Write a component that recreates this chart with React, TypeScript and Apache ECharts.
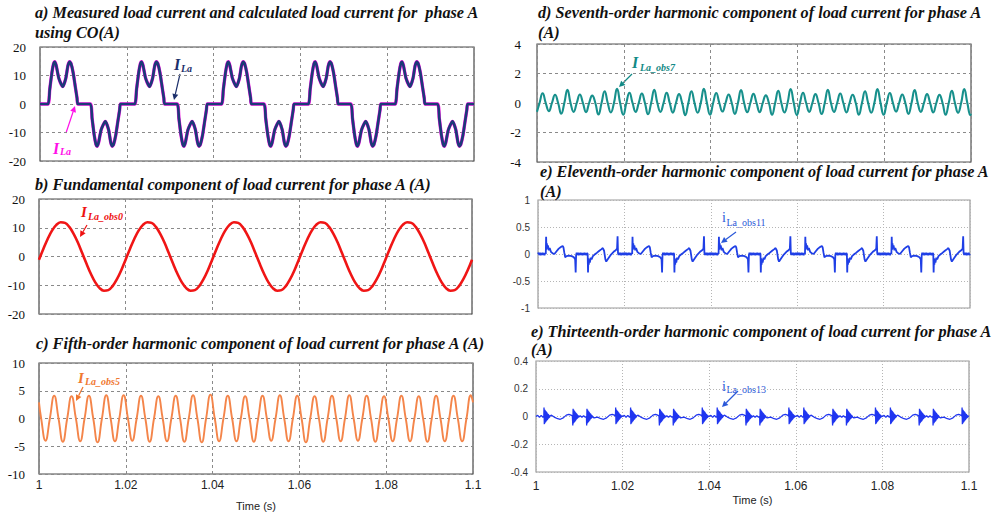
import React, { useEffect, useRef } from "react";
import * as echarts from "echarts";

// ---------------- data ----------------
const timeTicks = ["1", "1.02", "1.04", "1.06", "1.08", "1.1"];
const cycles = 5; // fundamental cycles shown between 1.00 s and 1.10 s (50 Hz)
const cycleMs = 20;

// a) load current I_La over one fundamental cycle (ms from cycle start, A)
const aCycleMs = [0, 1.84, 2.24, 2.74, 3.14, 3.39, 3.74, 4.34, 5.24, 5.94, 6.44, 6.84, 7.14, 7.64, 8.14, 8.54, 8.74,
  11.6, 12.0, 12.5, 12.9, 13.15, 13.5, 14.1, 15.05, 15.8, 16.3, 16.65, 16.95, 17.45, 17.95, 18.35, 18.55, 20];
const aCycleA = [0, 0, 5, 11, 14.2, 14.8, 13.5, 9, 6.1, 9, 13.5, 14.8, 14.2, 11, 6, 2, 0,
  0, -5, -11, -14.2, -14.8, -13.5, -9, -6.1, -9, -13.5, -14.8, -14.2, -11, -6, -2, 0, 0];

// b) fundamental component, one cycle at 1 ms steps (A)
const bCycleMs = [0, 1, 2, 3, 4, 5, 6, 7, 8, 9, 10, 11, 12, 13, 14, 15, 16, 17, 18, 19, 20];
const bCycleA = [-1.1, 2.6, 6.1, 9.0, 11.0, 11.9, 11.7, 10.3, 7.9, 4.8, 1.1, -2.6, -6.1, -9.0, -11.0, -11.9, -11.7, -10.3, -7.9, -4.8, -1.1];

// c) fifth harmonic: value at 1.00 s, successive troughs / peaks, value at 1.10 s
const cStartA = 2.9;
const cEndA = 2.9;
const cFirstTroughMs = 1.5;
const cTroughsA = [-4.0, -4.2, -4.1, -4.3, -4.1, -4.0, -4.2, -4.1, -4.2, -4.3, -4.1, -4.1, -4.2, -4.0, -4.1, -4.3, -4.2, -4.1, -4.0, -4.2, -4.1, -4.1, -4.2, -4.1, -4.1];
const cPeaksA = [4.1, 4.0, 4.1, 4.2, 4.2, 4.1, 4.0, 4.1, 4.2, 4.3, 4.1, 4.0, 4.1, 4.2, 4.1, 4.0, 4.1, 4.2, 4.1, 4.0, 4.1, 4.0, 4.1, 4.1, 4.2];

// d) seventh harmonic: value at 1.00 s, successive peaks / troughs, value at 1.10 s
const dStartA = -0.6;
const dEndA = -0.72;
const dFirstPeakMs = 1.3;
const dPeaksA = [0.66, 0.56, 0.9, 0.58, 0.5, 0.8, 0.96,
  0.7, 0.64, 0.9, 0.7, 0.6, 0.8, 0.96,
  0.68, 0.58, 0.88, 0.62, 0.52, 0.82, 0.95,
  0.7, 0.6, 0.9, 0.64, 0.56, 0.8, 0.95,
  0.68, 0.58, 0.88, 0.6, 0.55, 0.82, 0.94];
const dTroughsA = [-0.55, -0.72, -0.6, -0.62, -0.78, -0.64, -0.8,
  -0.6, -0.76, -0.6, -0.65, -0.82, -0.66, -0.8,
  -0.58, -0.74, -0.62, -0.62, -0.8, -0.64, -0.82,
  -0.6, -0.75, -0.6, -0.64, -0.8, -0.66, -0.8,
  -0.58, -0.74, -0.6, -0.64, -0.8, -0.66, -0.82];

// e) eleventh harmonic, one fundamental cycle [ms, A]
const eCyclePts: [number, number][] = [
  [0, 0.0], [0.15, 0.025], [0.3, -0.02], [0.45, 0.025], [0.6, -0.025], [0.75, 0.02], [0.9, -0.02], [1.05, 0.025],
  [1.2, -0.02], [1.35, 0.02], [1.5, -0.025], [1.65, 0.02], [1.8, 0.0],
  [1.88, 0.32], [1.96, 0.08], [2.05, 0.2], [2.15, 0.1], [2.3, 0.16], [2.5, 0.07], [2.7, 0.11], [3.0, 0.04],
  [3.4, 0.01], [3.8, 0.0], [4.3, 0.05], [4.8, 0.1], [5.3, 0.13], [5.7, 0.15], [5.9, 0.12], [6.1, 0.02],
  [6.3, -0.06], [6.6, -0.04], [7.2, -0.03], [7.8, -0.04], [8.3, -0.06], [8.6, -0.1],
  [8.72, -0.34], [8.82, -0.02],
  [8.95, 0.025], [9.1, -0.02], [9.25, 0.025], [9.4, -0.025], [9.55, 0.02], [9.7, -0.02], [9.85, 0.025],
  [10.0, -0.02], [10.15, 0.02], [10.3, -0.025], [10.45, 0.02], [10.6, -0.02], [10.75, 0.025], [10.9, -0.02],
  [11.05, 0.02], [11.2, -0.025], [11.35, 0.02], [11.5, 0.0],
  [11.58, -0.34], [11.66, -0.08], [11.75, -0.2], [11.85, -0.1], [12.0, -0.16], [12.2, -0.07], [12.4, -0.1],
  [12.7, -0.04], [13.1, -0.01], [13.6, 0.02], [14.2, 0.06], [14.7, 0.09], [15.0, 0.11], [15.3, 0.06],
  [15.6, -0.1], [15.8, -0.14], [16.3, -0.08], [16.9, -0.01], [17.5, 0.04], [18.0, 0.07], [18.3, 0.1],
  [18.42, 0.33], [18.52, 0.02],
  [18.65, -0.02], [18.8, 0.025], [18.95, -0.02], [19.1, 0.025], [19.25, -0.025], [19.4, 0.02], [19.55, -0.02],
  [19.7, 0.025], [19.85, -0.02], [20, 0.0],
];

// f) thirteenth harmonic: slow part of one cycle [ms, A] ...
const fBasePts: [number, number][] = [
  [0, 0.0], [0.4, 0.008], [0.8, -0.006], [1.2, 0.008], [1.6, -0.005], [1.8, 0.0],
  [3.5, 0.01], [4.2, -0.004], [5.0, -0.016], [5.6, -0.02], [6.3, -0.01], [7.0, 0.01], [7.6, 0.016], [8.1, 0.01], [8.4, 0.004],
  [10.2, 0.006], [10.6, -0.006], [11.0, 0.006], [11.4, -0.005], [11.65, 0.0],
  [13.4, -0.01], [14.2, -0.004], [15.0, -0.016], [15.6, -0.02], [16.3, -0.01], [17.0, 0.01], [17.6, 0.016], [18.1, 0.01], [18.35, 0.004],
  [20, 0.0],
];
// ... plus the ringing burst seen at each commutation instant
const fBurstMs = [0, 0.07, 0.14, 0.21, 0.28, 0.35, 0.42, 0.49, 0.56, 0.63, 0.7, 0.77, 0.84, 0.91, 0.98, 1.05, 1.12, 1.19, 1.26, 1.33, 1.4];
const fBurstA = [0.065, -0.055, 0.05, -0.048, 0.045, -0.042, 0.04, -0.036, 0.034, -0.03, 0.028, -0.025, 0.022, -0.02, 0.017, -0.014, 0.012, -0.01, 0.008, -0.005, 0.003];
const fEventMs = [1.85, 8.5, 11.7, 18.4];
const fEventSign = [1, -1, -1, 1];

// ---------------- helpers ----------------
const toT = (ms: number) => 1 + ms / 1000;

function tile(pts: [number, number][]) {
  const out: number[][] = [];
  for (let k = 0; k < cycles; k++) {
    pts.forEach(([m, v]) => {
      if (k > 0 && m === 0) return;
      out.push([toT(k * cycleMs + m), v]);
    });
  }
  return out;
}
const zip = (ms: number[], vals: number[]) => ms.map((m, i) => [m, vals[i]] as [number, number]);

function alternating(firstMs: number, halfMs: number, extremes: number[], startA: number, endA: number) {
  const out: number[][] = [[toT(0), startA]];
  extremes.forEach((v, i) => {
    const t = firstMs + i * halfMs;
    out.push([toT(t - halfMs / 2), 0]);
    out.push([toT(t), v]);
  });
  out.push([toT(cycles * cycleMs), endA]);
  return out;
}
function interleave(a: number[], b: number[]) {
  const r: number[] = [];
  a.forEach((v, i) => { r.push(v); if (i < b.length) r.push(b[i]); });
  return r;
}
function buildF() {
  const pts: [number, number][] = fBasePts.slice();
  fEventMs.forEach((ev, j) => fBurstMs.forEach((o, i) => pts.push([ev + o, fEventSign[j] * fBurstA[i]])));
  pts.sort((p, q) => p[0] - q[0]);
  return tile(pts);
}

const aData = tile(zip(aCycleMs, aCycleA));
const bData = tile(zip(bCycleMs, bCycleA));
const cData = alternating(cFirstTroughMs, 2, interleave(cTroughsA, cPeaksA), cStartA, cEndA);
const dData = alternating(dFirstPeakMs, cycleMs / 14, interleave(dPeaksA, dTroughsA), dStartA, dEndA);
const eData = tile(eCyclePts);
const fData = buildF();

// ---------------- layout / style ----------------
const SERIF = "'Liberation Serif', 'Times New Roman', serif";
const NARROW = "'Liberation Sans Narrow', 'Liberation Sans', Arial, sans-serif";
const TITLE_FONT = `italic bold 16.2px ${SERIF}`;

const panels = [
  { left: 40, top: 47, width: 434, height: 114, y: [-20, 20, 10], kind: "serif", x: false, border: "#4a4a4a", margin: 14 },
  { left: 39, top: 199, width: 433, height: 115, y: [-20, 20, 10], kind: "serif", x: false, border: "#4a4a4a", margin: 14 },
  { left: 39, top: 363, width: 434, height: 114, y: [-10, 10, 5], kind: "serif", x: true, border: "#4a4a4a", margin: 14, xm: 5, ng: 26 },
  { left: 537, top: 44, width: 434, height: 118, y: [-4, 4, 2], kind: "serif", x: false, border: "#555", margin: 16 },
  { left: 538, top: 200, width: 432, height: 108, y: [-1, 1, 0.5], kind: "sans", x: false, border: "#9a9a9a", margin: 8 },
  { left: 536, top: 361, width: 433, height: 111, y: [-0.4, 0.4, 0.2], kind: "sans", x: true, border: "#9a9a9a", margin: 8, xm: 8, ng: 22 },
];

function arrow(x1: number, y1: number, x2: number, y2: number, color: string) {
  const dx = x2 - x1, dy = y2 - y1, L = Math.hypot(dx, dy), ux = dx / L, uy = dy / L;
  const hl = 6, hw = 3;
  const bx = x2 - ux * hl, by = y2 - uy * hl;
  return [
    { type: "line", silent: true, shape: { x1, y1, x2: bx, y2: by }, style: { stroke: color, lineWidth: 1.2 } },
    { type: "polygon", silent: true, shape: { points: [[x2, y2], [bx - uy * hw, by + ux * hw], [bx + uy * hw, by - ux * hw]] }, style: { fill: color } },
  ];
}
function txt(x: number, y: number, text: string, font: string, fill: string) {
  return { type: "text", silent: true, x, y, style: { text, font, fill, verticalAlign: "middle", align: "left" } };
}

const graphics: any[] = [
  txt(35, 13, "a) Measured load current and calculated load current for  phase A", TITLE_FONT, "#111"),
  txt(35, 33, "using CO(A)", TITLE_FONT, "#111"),
  txt(35, 185, "b) Fundamental component of load current for phase A (A)", TITLE_FONT, "#111"),
  txt(36, 344, "c) Fifth-order harmonic component of load current for phase A (A)", TITLE_FONT, "#111"),
  txt(538, 13, "d) Seventh-order harmonic component of load current for phase A", TITLE_FONT, "#111"),
  txt(538, 33, "(A)", TITLE_FONT, "#111"),
  txt(540, 172, "e) Eleventh-order harmonic component of load current for phase A", TITLE_FONT, "#111"),
  txt(540, 192, "(A)", TITLE_FONT, "#111"),
  txt(531, 332, "e) Thirteenth-order harmonic component of load current for phase A", TITLE_FONT, "#111"),
  txt(531, 350, "(A)", TITLE_FONT, "#111"),
  // annotations
  txt(174, 64, "I", `italic bold 16px ${SERIF}`, "#1c2f6b"),
  txt(181, 68, "La", `italic bold 10px ${SERIF}`, "#1c2f6b"),
  ...arrow(180, 74, 174, 100, "#1c2f6b"),
  txt(53, 148, "I", `italic bold 16px ${SERIF}`, "#ff10e8"),
  txt(60, 151, "La", `italic bold 10px ${SERIF}`, "#ff10e8"),
  ...arrow(66, 133, 75, 106, "#ff10e8"),
  txt(81, 212, "I", `italic bold 15px ${SERIF}`, "#ee1111"),
  txt(88, 216, "La_obs0", `italic bold 10px ${SERIF}`, "#ee1111"),
  ...arrow(87, 225, 80, 237, "#ee1111"),
  txt(78, 378, "I", `italic bold 15px ${SERIF}`, "#f07830"),
  txt(85, 381, "La_obs5", `italic bold 10px ${SERIF}`, "#f07830"),
  ...arrow(83, 387, 76, 401, "#f07830"),
  txt(632, 62, "I", `italic bold 16px ${SERIF}`, "#128a86"),
  txt(640, 67, "La_obs7", `italic bold 10px ${SERIF}`, "#128a86"),
  ...arrow(632, 74, 619, 87, "#128a86"),
  txt(722, 217, "i", `14px ${SERIF}`, "#2a58d8"),
  txt(726.5, 222, "La_obs11", `10px ${SERIF}`, "#2a58d8"),
  ...arrow(736, 232, 721, 243, "#2a58d8"),
  txt(722, 386, "i", `14px ${SERIF}`, "#2a58d8"),
  txt(726.5, 389, "La_obs13", `10px ${SERIF}`, "#2a58d8"),
  ...arrow(738, 391, 722, 407, "#2a58d8"),
];

const option: any = {
  animation: false,
  backgroundColor: "#fff",
  grid: panels.map((p) => ({
    left: p.left, top: p.top, width: p.width, height: p.height,
    show: true, borderColor: p.border, borderWidth: 1.2, backgroundColor: "transparent",
  })),
  xAxis: panels.map((p, i) => ({
    type: "value", gridIndex: i, min: 1, max: 1.1, interval: 0.02,
    axisLine: { show: false }, axisTick: { show: false },
    axisLabel: {
      show: p.x, margin: p.xm || 4, fontFamily: NARROW, fontSize: 12, color: "#222",
      formatter: (v: number) => timeTicks[Math.round((v - 1) / 0.02)] ?? "",
    },
    name: p.x ? "Time (s)" : "", nameLocation: "middle", nameGap: p.ng || 26,
    nameTextStyle: { fontFamily: NARROW, fontSize: 11, color: "#222" },
    splitLine: {
      show: true,
      lineStyle: p.kind === "serif" ? { color: "#8a8a8a", type: [3, 3], width: 1 } : { color: "#b5b5b5", type: [1, 2], width: 1 },
    },
  })),
  yAxis: panels.map((p, i) => ({
    type: "value", gridIndex: i, min: p.y[0], max: p.y[1], interval: p.y[2],
    axisLine: { show: false }, axisTick: { show: false },
    axisLabel: p.kind === "serif"
      ? { margin: p.margin, fontFamily: SERIF, fontSize: 13, color: "#111" }
      : { margin: p.margin, fontFamily: NARROW, fontSize: 10, color: "#333" },
    splitLine: {
      show: true,
      lineStyle: p.kind === "serif" ? { color: "#8a8a8a", type: [3, 3], width: 1 } : { color: "#b5b5b5", type: [1, 2], width: 1 },
    },
  })),
  series: [
    { name: "I_La measured", type: "line", xAxisIndex: 0, yAxisIndex: 0, data: aData, showSymbol: false, smooth: 0.2, lineStyle: { color: "#ff10e8", width: 3.4 } },
    { name: "I_La calculated", type: "line", xAxisIndex: 0, yAxisIndex: 0, data: aData, showSymbol: false, smooth: 0.2, lineStyle: { color: "#1c3a78", width: 2.7 } },
    { name: "I_La_obs0", type: "line", xAxisIndex: 1, yAxisIndex: 1, data: bData, showSymbol: false, smooth: 0.4, lineStyle: { color: "#f01515", width: 2.6 } },
    { name: "I_La_obs5", type: "line", xAxisIndex: 2, yAxisIndex: 2, data: cData, showSymbol: false, smooth: 0.5, lineStyle: { color: "#f4854a", width: 1.9 } },
    { name: "I_La_obs7", type: "line", xAxisIndex: 3, yAxisIndex: 3, data: dData, showSymbol: false, smooth: 0.5, lineStyle: { color: "#17908c", width: 2.1 } },
    { name: "i_La_obs11", type: "line", xAxisIndex: 4, yAxisIndex: 4, data: eData, showSymbol: false, lineStyle: { color: "#1f3fe6", width: 1.8 } },
    { name: "i_La_obs13", type: "line", xAxisIndex: 5, yAxisIndex: 5, data: fData, showSymbol: false, lineStyle: { color: "#1f35f0", width: 1.3 } },
  ],
  graphic: graphics,
};

export default function App() {
  const ref = useRef<HTMLDivElement>(null);
  useEffect(() => {
    const chart = echarts.init(ref.current!, null, { renderer: "svg" });
    chart.setOption(option);
    return () => chart.dispose();
  }, []);
  return (
    <div
      ref={ref}
      style={{ position: "absolute", left: 0, top: 0, width: 995, height: 512, background: "#fff" }}
    />
  );
}
